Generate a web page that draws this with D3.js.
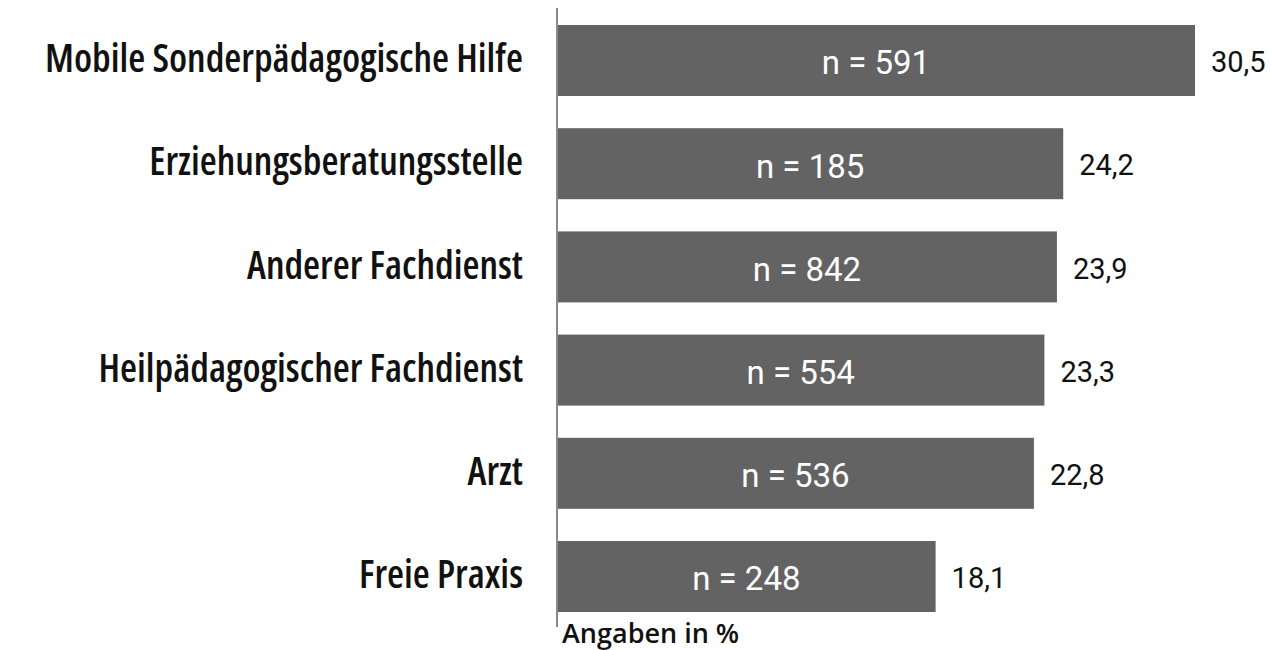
<!DOCTYPE html>
<html>
<head>
<meta charset="utf-8">
<script src="https://cdn.jsdelivr.net/npm/d3@7"></script>
<style>
  html, body { margin: 0; padding: 0; background: #fff; }
  svg { display: block; }
</style>
</head>
<body>
<svg id="chart"></svg>
<script>
const categories = [
    "Mobile Sonderpädagogische Hilfe",
    "Erziehungsberatungsstelle",
    "Anderer Fachdienst",
    "Heilpädagogischer Fachdienst",
    "Arzt",
    "Freie Praxis"
];
const percents = [30.5, 24.2, 23.9, 23.3, 22.8, 18.1];
const counts = [591, 185, 842, 554, 536, 248];
const axisNote = "Angaben in %";

const width = 1271, height = 650;
const margin = {top: 25, left: 557, bottom: 38};
const labelFont = "'Open Sans', sans-serif";

const data = categories.map((c, i) => ({name: c, value: percents[i], n: counts[i]}));

const svg = d3.select("#chart")
    .attr("width", width)
    .attr("height", height);

const x = d3.scaleLinear()
    .domain([0, d3.max(percents)])
    .range([margin.left, 1195]);

const y = d3.scaleBand()
    .domain(categories)
    .range([margin.top, height - margin.bottom])
    .paddingInner(0.312)
    .paddingOuter(0);

// bars
svg.append("g")
    .selectAll("rect")
    .data(data)
    .join("rect")
        .attr("x", x(0))
        .attr("y", d => y(d.name))
        .attr("width", d => x(d.value) - x(0))
        .attr("height", y.bandwidth())
        .attr("fill", "#636363");

// n labels inside bars
svg.append("g")
    .attr("fill", "#fff")
    .attr("text-anchor", "middle")
    .style("font", "33px Roboto, sans-serif")
    .selectAll("text")
    .data(data)
    .join("text")
        .attr("x", d => (x(0) + x(d.value)) / 2)
        .attr("y", d => y(d.name) + y.bandwidth() / 2)
        .attr("dy", "0.42em")
        .text(d => "n = " + d.n);

// value labels
svg.append("g")
    .attr("fill", "#111")
    .style("font", "29px Roboto, sans-serif")
    .selectAll("text")
    .data(data)
    .join("text")
        .attr("x", d => x(d.value) + 16)
        .attr("y", d => y(d.name) + y.bandwidth() / 2)
        .attr("dy", "0.4em")
        .text(d => d3.format(".1f")(d.value).replace(".", ","));

// category axis
const yAxis = g => {
    g.attr("transform", `translate(${x(0) - 34}, 0)`)
        .call(d3.axisLeft(y).tickSize(0).tickPadding(0))
        .call(g => g.select(".domain").remove());
    g.selectAll("text")
        .attr("fill", "#111")
        .attr("dy", "0.3em")
        .style("font-family", labelFont)
        .style("font-weight", "600")
        .style("font-stretch", "condensed")
        .style("font-size", "39px");
};
svg.append("g").call(yAxis);

// vertical base line
svg.append("line")
    .attr("x1", x(0)).attr("x2", x(0))
    .attr("y1", 8).attr("y2", 627)
    .attr("stroke", "#8a8a8a")
    .attr("stroke-width", 2);

svg.append("text")
    .attr("x", x(0) + 5)
    .attr("y", 643)
    .attr("fill", "#111")
    .style("font-family", labelFont)
    .style("font-weight", "600")
    .style("font-size", "27px")
    .text(axisNote);
</script>
</body>
</html>
